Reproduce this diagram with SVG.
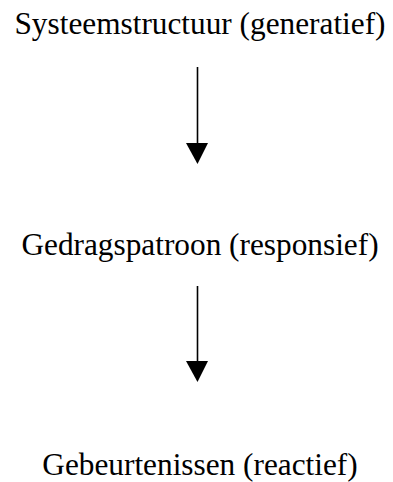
<svg xmlns="http://www.w3.org/2000/svg" width="393" height="482" viewBox="0 0 393 482">
  <style>
    .lbl { font-family: "Liberation Serif", "Times New Roman", serif; font-size: 31.3px; fill: #000; text-anchor: middle; }
    .conn { stroke: #000; stroke-width: 1.6; fill: none; }
    .head { fill: #000; }
  </style>
  <rect width="393" height="482" fill="#fff"/>
  <g id="systeemstructuur">
    <text class="lbl" x="200" y="34">Systeemstructuur (generatief)</text>
  </g>
  <g id="gedragspatroon">
    <text class="lbl" x="200" y="255">Gedragspatroon (responsief)</text>
  </g>
  <g id="gebeurtenissen">
    <text class="lbl" x="200" y="475">Gebeurtenissen (reactief)</text>
  </g>
  <g id="connectors">
    <line class="conn" x1="197.5" y1="67" x2="197.5" y2="145"/>
    <polygon class="head" points="186,143 208,143 197.5,164"/>
    <line class="conn" x1="197.5" y1="286" x2="197.5" y2="363"/>
    <polygon class="head" points="186,361 208,361 197.5,382"/>
  </g>
</svg>
